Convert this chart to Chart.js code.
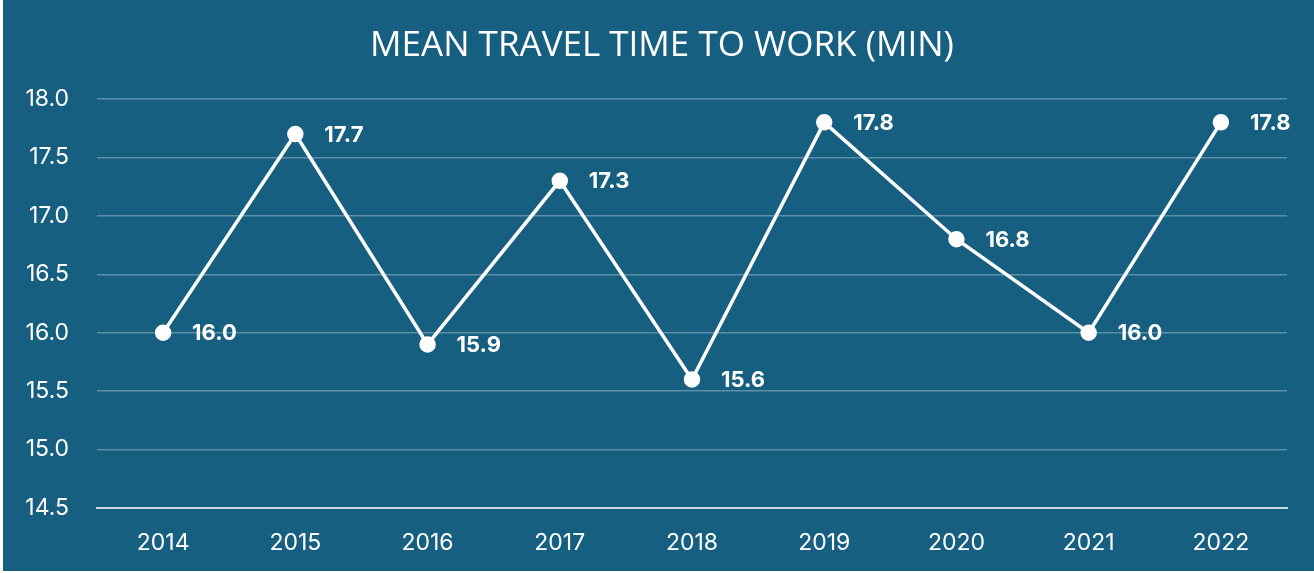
<!DOCTYPE html>
<html>
<head>
<meta charset="utf-8">
<script src="https://cdn.jsdelivr.net/npm/chart.js@4"></script>
<style>
  html, body { margin: 0; padding: 0; background: #fff; }
  #wrap { position: absolute; left: 3px; top: 0; width: 1311px; height: 571px; background: #175f80; }
</style>
</head>
<body>
<div id="wrap"><canvas id="myChart"></canvas></div>
<script>
  // data
  const years = ['2014', '2015', '2016', '2017', '2018', '2019', '2020', '2021', '2022'];
  const travelTime = [16.0, 17.7, 15.9, 17.3, 15.6, 17.8, 16.8, 16.0, 17.8];
  const yMin = 14.5, yMax = 18.0, yStep = 0.5;
  const titleText = 'MEAN TRAVEL TIME TO WORK (MIN)';

  // value labels right of each point + title
  const valueLabels = {
    id: 'valueLabels',
    afterDatasetsDraw(chart) {
      const ctx = chart.ctx;
      const meta = chart.getDatasetMeta(0);
      ctx.save();
      ctx.fillStyle = '#ffffff';
      ctx.font = 'bold 22px Inter, "Open Sans", sans-serif';
      ctx.textAlign = 'left';
      ctx.textBaseline = 'middle';
      meta.data.forEach((pt, i) => {
        ctx.fillText(travelTime[i].toFixed(1), pt.x + 29, pt.y + 1);
      });
      // title
      ctx.font = '35px "Open Sans", sans-serif';
      ctx.textAlign = 'center';
      ctx.fillText(titleText, 659, 46);
      ctx.restore();
    }
  };

  const config = {
    type: 'line',
    data: {
      labels: years,
      datasets: [{
        data: travelTime,
        borderColor: '#ffffff',
        backgroundColor: '#ffffff',
        borderWidth: 3.5,
        pointRadius: 6.5,
        pointHoverRadius: 6.5,
        tension: 0,
      }]
    },
    options: {
      responsive: true,
      maintainAspectRatio: false,
      animation: false,
      layout: { padding: { left: 0, right: 27, top: 99, bottom: 0 } },
      plugins: {
        legend: { display: false },
        tooltip: { enabled: false },
        title: { display: false },
      },
      scales: {
        x: {
          offset: true,
          grid: { display: false, drawTicks: false },
          border: { display: true, color: 'rgba(255,255,255,0.7)', width: 2 },
          ticks: { color: '#ffffff', font: { family: 'Inter, sans-serif', size: 23 }, padding: 21 },
          afterFit: (s) => { s.height = 63; },
        },
        y: {
          min: yMin,
          max: yMax,
          grid: { color: 'rgba(255,255,255,0.3)', lineWidth: 1.5, drawTicks: false },
          border: { display: false },
          ticks: {
            stepSize: yStep,
            color: '#ffffff',
            font: { family: 'Inter, sans-serif', size: 23 },
            padding: 28,
            callback: (v) => Number(v).toFixed(1),
          },
          afterFit: (s) => { s.width = 94; },
        },
      },
    },
    plugins: [valueLabels],
  };

  var myChart = new Chart(document.getElementById('myChart'), config);
</script>
</body>
</html>
